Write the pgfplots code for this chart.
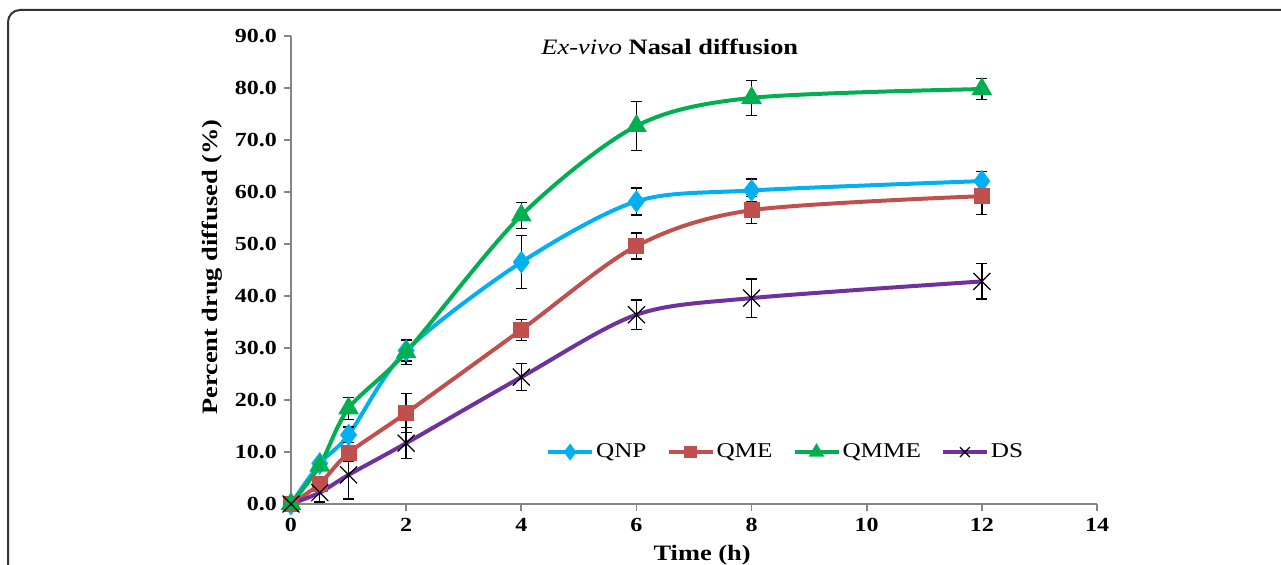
\documentclass[border=0pt]{standalone}
\usepackage{fontspec}
\setmainfont{Liberation Serif}[FakeStretch=1.2]
\usepackage{pgfplots}
\pgfplotsset{compat=1.18}
\usepackage{pgfplotstable}
\definecolor{cQNP}{HTML}{00B0F0}
\definecolor{cQME}{HTML}{C0504D}
\definecolor{cQMME}{HTML}{00B050}
\definecolor{cDS}{HTML}{7030A0}
\definecolor{axgray}{HTML}{868686}

\pgfplotstableread{
x y e
0 0 0
0.5 7.8 0.8
1 13.3 1.5
2 29.5 2.0
4 46.5 5.1
6 58.2 2.6
8 60.3 2.2
12 62.1 1.9
}\QNP
\pgfplotstableread{
x y e
0 0 0
0.5 3.9 1.0
1 9.8 1.5
2 17.5 3.7
4 33.5 2.0
6 49.6 2.5
8 56.5 2.6
12 59.2 3.5
}\QME
\pgfplotstableread{
x y e
0 0 0
0.5 7.4 1.0
1 18.4 2.1
2 29.2 2.4
4 55.5 2.5
6 72.7 4.7
8 78.1 3.4
12 79.8 2.0
}\QMME
\pgfplotstableread{
x y e
0 0 0
0.5 2.2 1.8
1 5.6 4.6
2 11.7 3.0
4 24.4 2.6
6 36.4 2.8
8 39.6 3.7
12 42.8 3.4
}\DS

\begin{document}
\begin{tikzpicture}[x=1pt,y=1pt]
\useasboundingbox (0,0) rectangle (640.5,282);
\draw[line width=1pt, black!80, rounded corners=6pt] (4,-40) -- (4,277) -- (720,277);
\begin{axis}[
  at={(145.5pt,30pt)}, anchor=south west,
  scale only axis, width=403pt, height=234pt,
  xmin=0, xmax=14, ymin=0, ymax=90,
  axis x line=bottom, axis y line=left,
  axis line style={-, draw=axgray, line width=0.8pt},
  xtick={0,2,...,14}, ytick={0,10,...,90},
  tick align=outside, major tick length=3.5pt,
  tick style={draw=axgray, line width=0.8pt},
  /pgf/number format/assume math mode=true,
  tick label style={font=\fontsize{10}{12}\selectfont\bfseries},
  yticklabel style={/pgf/number format/.cd, fixed, fixed zerofill, precision=1},
  xticklabel style={/pgf/number format/.cd, fixed},
  ylabel={Percent drug diffused (\%)},
  ylabel style={at={(rel axis cs:-0.098,0.506)}, anchor=center, font=\fontsize{11}{13}\selectfont\bfseries},
  xlabel={Time (h)},
  xlabel style={at={(rel axis cs:0.51,-0.12)}, anchor=base, font=\fontsize{11}{13}\selectfont\bfseries},
  legend columns=4,
  legend style={at={(rel axis cs:0.316,0.111)}, anchor=west, draw=none, fill=none, inner sep=0pt,
    font=\fontsize{10.5}{12}\selectfont,
    nodes={inner sep=1pt},
    /tikz/every even column/.append style={column sep=9pt}},
  legend image code/.code={\draw[mark repeat=2,mark phase=2] plot coordinates {(0pt,0pt) (11pt,0pt) (22pt,0pt)};},
  error bars/y dir=both, error bars/y explicit,
  error bars/error bar style={black, line width=0.7pt, solid},
  error bars/error mark options={rotate=90, mark size=2.8pt, black, line width=0.7pt},
  clip=false,
]
\addplot[cQNP, line width=2pt, smooth, mark=diamond*, mark size=4pt, mark options={fill=cQNP, draw=cQNP},
  legend image post style={mark size=2.6pt}]
  table[x=x, y=y, y error=e] {\QNP};
\addlegendentry{QNP}
\addplot[cQME, line width=2pt, smooth, mark=square*, mark size=3pt, mark options={fill=cQME, draw=cQME},
  legend image post style={mark size=2.2pt}]
  table[x=x, y=y, y error=e] {\QME};
\addlegendentry{QME}
\addplot[cQMME, line width=2pt, smooth, mark=triangle*, mark size=4pt, mark options={fill=cQMME, draw=cQMME},
  legend image post style={mark size=2.5pt}]
  table[x=x, y=y, y error=e] {\QMME};
\addlegendentry{QMME}
\addplot[cDS, line width=2pt, smooth, mark=x, mark size=6pt, mark options={draw=black, line width=0.6pt},
  legend image post style={mark size=3.5pt}]
  table[x=x, y=y, y error=e] {\DS};
\addlegendentry{DS}
\node[font=\fontsize{11}{13}\selectfont] at (rel axis cs:0.47,0.976) {\textit{Ex-vivo} \textbf{Nasal diffusion}};
\end{axis}
\end{tikzpicture}
\end{document}
